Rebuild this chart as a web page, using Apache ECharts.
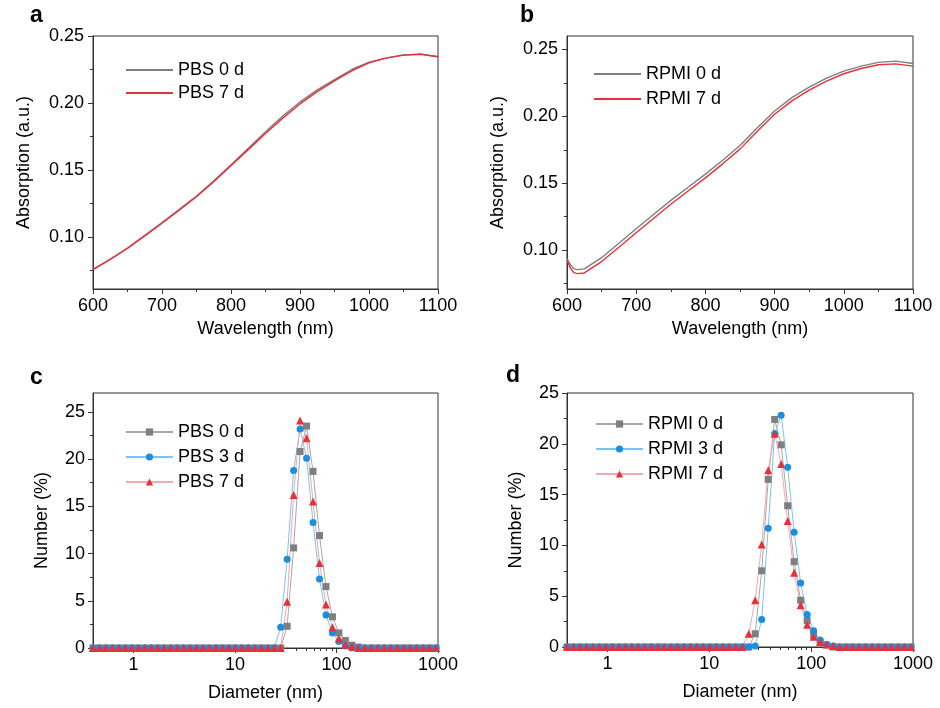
<!DOCTYPE html>
<html><head><meta charset="utf-8">
<script src="https://cdn.jsdelivr.net/npm/echarts@6/dist/echarts.min.js"></script>
<style>html,body{margin:0;padding:0;background:#fff}#c{width:940px;height:708px}</style>
</head><body><div id="c"></div>
<script>
// ---------- data ----------
const wavelengthA = [600,625,650,675,700,725,750,775,800,825,850,875,900,925,950,975,1000,1025,1050,1075,1100];
const pbs0Abs = [0.0759,0.0835,0.0918,0.1012,0.1108,0.1207,0.1306,0.1420,0.1540,0.1663,0.1786,0.1903,0.2008,0.2098,0.2175,0.2250,0.2305,0.2337,0.2358,0.2365,0.2345];
const pbs7Abs = [0.0757,0.0832,0.0915,0.1008,0.1103,0.1200,0.1300,0.1413,0.1532,0.1652,0.1772,0.1887,0.1993,0.2085,0.2165,0.2240,0.2300,0.2335,0.2357,0.2364,0.2345];

const wavelengthB = [600,605,610,615,625,650,675,700,725,750,775,800,825,850,875,900,925,950,975,1000,1025,1050,1075,1100];
const rpmi0Abs = [0.0938,0.0890,0.0862,0.0855,0.0860,0.0944,0.1052,0.1160,0.1267,0.1372,0.1470,0.1568,0.1672,0.1782,0.1915,0.2040,0.2140,0.2218,0.2285,0.2338,0.2375,0.2403,0.2412,0.2395];
const rpmi7Abs = [0.0925,0.0865,0.0832,0.0825,0.0830,0.0915,0.1022,0.1130,0.1237,0.1343,0.1442,0.1540,0.1645,0.1755,0.1888,0.2015,0.2115,0.2195,0.2263,0.2318,0.2357,0.2385,0.2392,0.2375];

const diameterBins = [0.4,0.4632,0.5365,0.6213,0.7195,0.8332,0.9649,1.117,1.294,1.499,
  1.736,2.01,2.328,2.696,3.122,3.615,4.187,4.849,5.615,6.503,
  7.531,8.721,10.1,11.7,13.54,15.69,18.17,21.04,24.36,28.21,
  32.67,37.84,43.82,50.75,58.77,68.06,78.82,91.28,105.7,122.4,
  141.8,164.2,190.1,220.2,255,295.3,342,396.1,458.7,531.2,
  615.1,712.4,825,955.4];

const pbs0Num = [0,0,0,0,0,0,0,0,0,0, 0,0,0,0,0,0,0,0,0,0, 0,0,0,0,0,0,0,0,0,0,
  2.3,10.6,20.8,23.5,18.7,11.9,6.5,3.3,1.6,0.8, 0.3,0.1,0,0,0,0,0,0,0,0, 0,0,0,0];
const pbs3Num = [0,0,0,0,0,0,0,0,0,0, 0,0,0,0,0,0,0,0,0,0, 0,0,0,0,0,0,0,0,0,2.2,
  9.4,18.8,23.2,20.1,13.3,7.3,3.5,1.6,0.7,0.2, 0,0,0,0,0,0,0,0,0,0, 0,0,0,0];
const pbs7Num = [0,0,0,0,0,0,0,0,0,0, 0,0,0,0,0,0,0,0,0,0, 0,0,0,0,0,0,0,0,0,0,
  4.9,16.2,24.1,22.2,15.5,9.0,4.6,2.2,1.0,0.35, 0.15,0,0,0,0,0,0,0,0,0, 0,0,0,0];
const rpmi0Num = [0,0,0,0,0,0,0,0,0,0, 0,0,0,0,0,0,0,0,0,0, 0,0,0,0,0,0,0,0,0,1.3,
  7.5,16.5,22.4,19.9,13.9,8.4,4.6,2.6,1.2,0.5, 0.2,0,0,0,0,0,0,0,0,0, 0,0,0,0];
const rpmi3Num = [0,0,0,0,0,0,0,0,0,0, 0,0,0,0,0,0,0,0,0,0, 0,0,0,0,0,0,0,0,0,0.1,
  2.7,11.7,21.0,22.8,17.7,11.3,6.3,3.2,1.6,0.7, 0.25,0.1,0,0,0,0,0,0,0,0, 0,0,0,0];
const rpmi7Num = [0,0,0,0,0,0,0,0,0,0, 0,0,0,0,0,0,0,0,0,0, 0,0,0,0,0,0,0,0,1.3,4.6,
  10.1,17.4,21.0,18.0,12.4,7.3,4.1,2.2,1.0,0.5, 0.25,0.1,0,0,0,0,0,0,0,0, 0,0,0,0];

const absTicks = [0.10,0.15,0.20,0.25];
const numTicks = [0,5,10,15,20,25];
const logTicks = [1,10,100,1000];
const logMinorTicks = [0.5,0.6,0.7,0.8,0.9,2,3,4,5,6,7,8,9,20,30,40,50,60,70,80,90,200,300,400,500,600,700,800,900];

// ---------- style ----------
const FONT = "'Liberation Sans', Arial, sans-serif";
const AX = '#333';
const GRAY = '#7f7f7f', RED = '#e8303a', BLUE = '#1b8fdf';
const GRAYL = '#a8a8a8', REDL = '#f5a8ae', BLUEL = '#7cc4f0';

const pair = (xs, ys) => xs.map((x, i) => [x, ys[i]]);

const grids = [
  {left: 93, top: 36, width: 345, height: 253},
  {left: 567, top: 36, width: 346, height: 253},
  {left: 93, top: 393, width: 345, height: 255},
  {left: 567, top: 393, width: 346, height: 254}
].map(g => Object.assign(g, {show: true, borderColor: AX, borderWidth: 1, backgroundColor: 'transparent', containLabel: false}));

const lbl = {fontSize: 18, color: '#000', fontFamily: FONT};
const nameStyle = {fontSize: 18, color: '#000', fontFamily: FONT};

function wlAxis(gi) {
  return {
    type: 'value', gridIndex: gi, min: 600, max: 1100, interval: 100,
    position: 'bottom',
    name: 'Wavelength (nm)', nameLocation: 'middle', nameGap: 31, nameTextStyle: nameStyle,
    axisLine: {onZero: false, lineStyle: {color: AX, width: 1}},
    axisTick: {length: 5, lineStyle: {color: AX}},
    minorTick: {show: true, splitNumber: 2, length: 3, lineStyle: {color: AX}},
    axisLabel: Object.assign({margin: 8, formatter: v => String(v)}, lbl),
    splitLine: {show: false}
  };
}
function logAxis(gi) {
  return {
    type: 'log', logBase: 10, gridIndex: gi, min: 0.4, max: 1000,
    position: 'bottom',
    name: 'Diameter (nm)', nameLocation: 'middle', nameGap: 36, nameTextStyle: nameStyle,
    axisLine: {onZero: false, lineStyle: {color: AX, width: 1}},
    axisTick: {length: 5, customValues: logTicks, lineStyle: {color: AX}},
    axisLabel: Object.assign({margin: 8, customValues: logTicks, formatter: v => String(Math.round(v))}, lbl),
    splitLine: {show: false}, minorTick: {show: false}
  };
}
function logMinorAxis(gi) {
  return {
    type: 'log', logBase: 10, gridIndex: gi, min: 0.4, max: 1000, position: 'bottom',
    axisLine: {show: false, onZero: false},
    axisTick: {length: 3, customValues: logMinorTicks, lineStyle: {color: AX}},
    axisLabel: {show: false}, splitLine: {show: false}
  };
}
function absAxis(gi, min, max) {
  return {
    type: 'value', gridIndex: gi, min: min, max: max, splitNumber: 4, position: 'left',
    name: 'Absorption (a.u.)', nameLocation: 'middle', nameGap: 60, nameTextStyle: nameStyle,
    axisLine: {onZero: false, lineStyle: {color: AX, width: 1}},
    axisTick: {length: 5, customValues: absTicks, lineStyle: {color: AX}},
    minorTick: {show: true, splitNumber: 2, length: 3, lineStyle: {color: AX}},
    axisLabel: Object.assign({margin: 9, customValues: absTicks, formatter: v => v.toFixed(2)}, lbl),
    splitLine: {show: false}
  };
}
function numAxis(gi, max) {
  return {
    type: 'value', gridIndex: gi, min: 0, max: max, interval: 5, position: 'left',
    name: 'Number (%)', nameLocation: 'middle', nameGap: 42, nameTextStyle: nameStyle,
    axisLine: {onZero: false, lineStyle: {color: AX, width: 1}},
    axisTick: {length: 5, customValues: numTicks, lineStyle: {color: AX}},
    minorTick: {show: true, splitNumber: 2, length: 3, lineStyle: {color: AX}},
    axisLabel: Object.assign({margin: 8, customValues: numTicks}, lbl),
    splitLine: {show: false}
  };
}

function specSeries(name, xs, ys, color, idx) {
  return {
    type: 'line', name: name, xAxisIndex: idx, yAxisIndex: idx,
    data: pair(xs, ys), symbol: 'none', smooth: false,
    lineStyle: {color: color, width: 1.4}, itemStyle: {color: color}, z: 3
  };
}
function dlsSeries(name, ys, color, lcolor, sym, size, idx) {
  return {
    type: 'line', name: name, xAxisIndex: idx, yAxisIndex: idx,
    data: pair(diameterBins, ys), symbol: sym, symbolSize: size, showAllSymbol: true,
    clip: false,
    lineStyle: {color: lcolor, width: 1}, itemStyle: {color: color}, z: 3
  };
}

function legend(names, left, top, gap, noSymbol) {
  const l = {
    data: names, left: left, top: top, orient: 'vertical',
    itemWidth: 47, itemHeight: 9, itemGap: gap, padding: 0,
    textStyle: {fontSize: 18, color: '#000', fontFamily: FONT},
    selectedMode: false
  };
  if (noSymbol) l.itemStyle = {opacity: 0};
  return l;
}

const letter = (t, l, tp) => ({text: t, left: l, top: tp, padding: 0,
  textStyle: {fontSize: 23, fontWeight: 'bold', color: '#000', fontFamily: FONT}});

const option = {
  backgroundColor: '#fff',
  animation: false,
  title: [letter('a', 30, 4), letter('b', 520, 4), letter('c', 30, 366), letter('d', 506, 364)],
  grid: grids,
  xAxis: [wlAxis(0), wlAxis(1), logAxis(2), logAxis(3), logMinorAxis(2), logMinorAxis(3)],
  yAxis: [absAxis(0, 0.0612, 0.25), absAxis(1, 0.071, 0.26), numAxis(2, 27), numAxis(3, 25)],
  legend: [
    legend(['PBS 0 d', 'PBS 7 d'], 125, 61, 5, true),
    legend(['RPMI 0 d', 'RPMI 7 d'], 593, 65, 7, true),
    legend(['PBS 0 d ', 'PBS 3 d', 'PBS 7 d '], 125, 423, 7),
    legend(['RPMI 0 d ', 'RPMI 3 d', 'RPMI 7 d '], 595, 415, 7)
  ],
  series: [
    specSeries('PBS 0 d', wavelengthA, pbs0Abs, GRAY, 0),
    specSeries('PBS 7 d', wavelengthA, pbs7Abs, RED, 0),
    specSeries('RPMI 0 d', wavelengthB, rpmi0Abs, GRAY, 1),
    specSeries('RPMI 7 d', wavelengthB, rpmi7Abs, RED, 1),
    dlsSeries('PBS 0 d ', pbs0Num, GRAY, GRAYL, 'rect', 7, 2),
    dlsSeries('PBS 3 d', pbs3Num, BLUE, BLUEL, 'circle', 7, 2),
    dlsSeries('PBS 7 d ', pbs7Num, RED, REDL, 'triangle', 8, 2),
    dlsSeries('RPMI 0 d ', rpmi0Num, GRAY, GRAYL, 'rect', 7, 3),
    dlsSeries('RPMI 3 d', rpmi3Num, BLUE, BLUEL, 'circle', 7, 3),
    dlsSeries('RPMI 7 d ', rpmi7Num, RED, REDL, 'triangle', 8, 3)
  ]
};

const chart = echarts.init(document.getElementById('c'), null, {renderer: 'canvas'});
chart.setOption(option);
</script>
</body></html>
